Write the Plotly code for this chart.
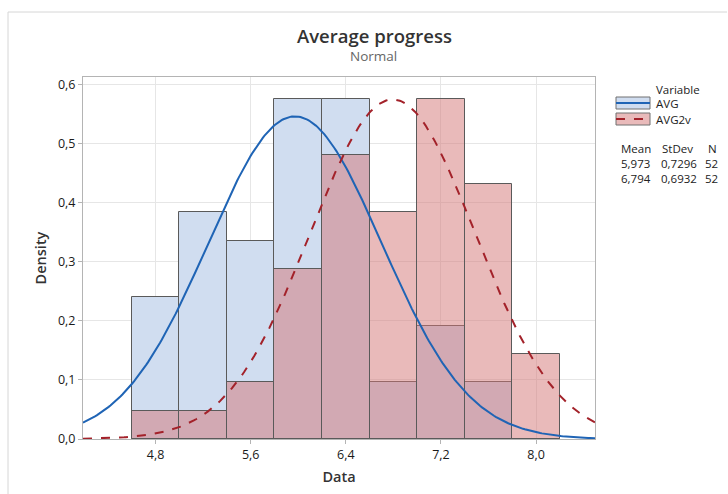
import numpy as np
import plotly.graph_objects as go

# Bin centers (width 0.4)
bin_centers = [4.8, 5.2, 5.6, 6.0, 6.4, 6.8, 7.2, 7.6, 8.0]
bin_width = 0.4
avg_density = [0.240, 0.385, 0.336, 0.577, 0.577, 0.096, 0.192, 0.096, 0.0]
avg2v_density = [0.048, 0.048, 0.096, 0.288, 0.481, 0.385, 0.577, 0.433, 0.144]

series_names = ["AVG", "AVG2v"]
means = [5.973, 6.794]
stdevs = [0.7296, 0.6932]
counts = [52, 52]

x_ticks = [4.8, 5.6, 6.4, 7.2, 8.0]
y_ticks = [0.0, 0.1, 0.2, 0.3, 0.4, 0.5, 0.6]
x_range = [4.19, 8.496]
y_range = [0, 0.6135]

FONT = "Open Sans"
blue_fill = "rgb(208,221,240)"
red_fill = "rgba(211,117,117,0.5)"
blue_line = "#1f64b5"
red_line = "#a3222a"
edge = "#5a5a5a"

fig = go.Figure()
fig.add_trace(go.Bar(x=bin_centers, y=avg_density, width=bin_width,
                     marker=dict(color=blue_fill, line=dict(color=edge, width=1)),
                     name="AVG", showlegend=False))
fig.add_trace(go.Bar(x=bin_centers, y=avg2v_density, width=bin_width,
                     marker=dict(color=red_fill, line=dict(color=edge, width=1)),
                     name="AVG2v", showlegend=False))

xs = np.linspace(x_range[0], x_range[1], 300)
for m, s, col, dash in [(means[0], stdevs[0], blue_line, "solid"),
                        (means[1], stdevs[1], red_line, "dash")]:
    pdf = np.exp(-0.5 * ((xs - m) / s) ** 2) / (s * np.sqrt(2 * np.pi))
    fig.add_trace(go.Scatter(x=xs, y=pdf, mode="lines",
                             line=dict(color=col, width=2, dash=dash),
                             showlegend=False, hoverinfo="skip"))

fig.update_layout(
    width=728, height=494,
    margin=dict(l=83, r=133, t=77, b=55),
    paper_bgcolor="white", plot_bgcolor="white",
    barmode="overlay", bargap=0,
    separators=",.",
    font=dict(family=FONT, color="#222"),
    showlegend=False,
)
fig.update_xaxes(range=x_range, tickvals=x_ticks, tickformat=".1f",
                 showgrid=True, gridcolor="#e6e6e6", gridwidth=1,
                 showline=True, linecolor="#b4b4b4", linewidth=1, mirror=True,
                 ticks="outside", ticklen=4, tickcolor="#b4b4b4",
                 tickfont=dict(size=12.5, family=FONT, color="#1a1a1a"),
                 title=dict(text="Data", font=dict(size=14.5, family=FONT, color="#333", weight=600), standoff=9),
                 zeroline=False)
fig.update_yaxes(range=y_range, tickvals=y_ticks, tickformat=".1f",
                 showgrid=True, gridcolor="#e6e6e6", gridwidth=1,
                 showline=True, linecolor="#b4b4b4", linewidth=1, mirror=True,
                 ticks="outside", ticklen=4, tickcolor="#b4b4b4",
                 tickfont=dict(size=12.5, family=FONT, color="#1a1a1a"),
                 title=dict(text="Density", font=dict(size=14.5, family=FONT, color="#333", weight=600), standoff=7),
                 zeroline=False)

def px(xp):
    return (xp - 83) / 512
def py(yp):
    return (439 - yp) / 362

# Title and subtitle
fig.add_annotation(text="Average progress", xref="paper", yref="paper",
                   x=px(374), y=py(36), showarrow=False,
                   xanchor="center", yanchor="middle",
                   font=dict(size=18.5, family=FONT, color="#333", weight=600))
fig.add_annotation(text="Normal", xref="paper", yref="paper",
                   x=px(373), y=py(56), showarrow=False,
                   xanchor="center", yanchor="middle",
                   font=dict(size=13.5, family=FONT, color="#666"))

# Outer frame lines (top & left)
fig.add_shape(type="line", xref="paper", yref="paper", x0=px(8), x1=px(727), y0=py(12), y1=py(12),
              line=dict(color="#d6d6d6", width=1))
fig.add_shape(type="line", xref="paper", yref="paper", x0=px(8), x1=px(8), y0=py(12), y1=py(494),
              line=dict(color="#d6d6d6", width=1))

# Legend
fig.add_annotation(text="Variable", xref="paper", yref="paper", x=px(654), y=py(89),
                   xanchor="left", yanchor="middle", showarrow=False,
                   font=dict(size=11.5, family=FONT, color="#222"))
legend_rows = [(103, blue_fill, blue_line, "solid"), (119, "rgb(233,186,186)", red_line, "dash")]
for (yc, fillc, lc, dash), name in zip(legend_rows, series_names):
    fig.add_shape(type="rect", xref="paper", yref="paper", x0=px(616), x1=px(650),
                  y0=py(yc - 6), y1=py(yc + 6), fillcolor=fillc, line=dict(color="#707070", width=1))
    fig.add_shape(type="line", xref="paper", yref="paper", x0=px(616), x1=px(650),
                  y0=py(yc), y1=py(yc), line=dict(color=lc, width=2, dash=dash))
    fig.add_annotation(text=name, xref="paper", yref="paper", x=px(654), y=py(yc),
                       xanchor="left", yanchor="middle", showarrow=False,
                       font=dict(size=11.5, family=FONT, color="#222"))

# Stats table
cols = [(619, "Mean"), (660, "StDev"), (706, "N")]
for xc, h in cols:
    fig.add_annotation(text=h, xref="paper", yref="paper", x=px(xc), y=py(148),
                       xanchor="left", yanchor="middle", showarrow=False,
                       font=dict(size=11.5, family=FONT, color="#222"))
for i in range(2):
    yc = 163 + 15 * i
    vals = [f"{means[i]:.3f}".replace(".", ","), f"{stdevs[i]:.4f}".replace(".", ","), str(counts[i])]
    xs_col = [619, 659, 703]
    for xc, v in zip(xs_col, vals):
        fig.add_annotation(text=v, xref="paper", yref="paper", x=px(xc), y=py(yc),
                           xanchor="left", yanchor="middle", showarrow=False,
                           font=dict(size=11.5, family=FONT, color="#222"))

fig.write_html("out.html")
